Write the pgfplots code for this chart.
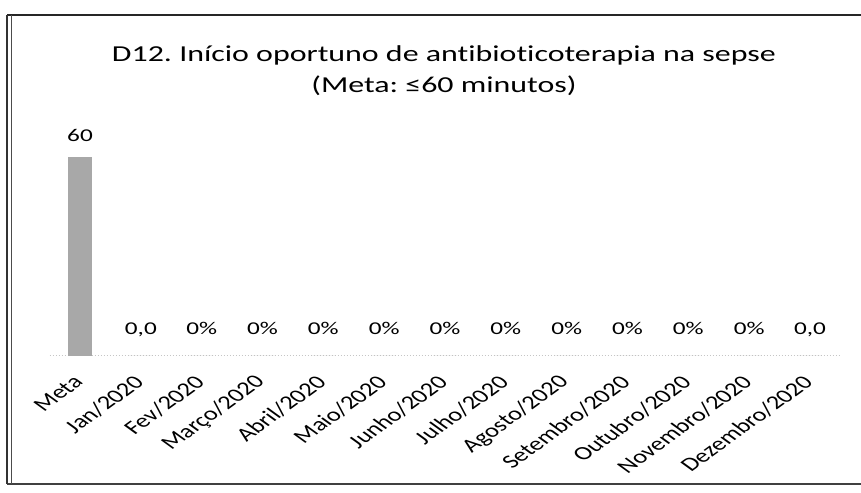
\documentclass[border=0pt]{standalone}
\usepackage{pgfplots}
\pgfplotsset{compat=1.18}
\usepackage{fontspec}
\setmainfont{Carlito}[Ligatures=NoCommon]
\newfontfamily\wide{Carlito}[FakeStretch=1.4, Ligatures=NoCommon]
\frenchspacing
\begin{document}
\begin{tikzpicture}
\path[use as bounding box] (0,0) rectangle (430.5pt,246pt);
\draw[black!85, line width=1pt] (3.5pt,238.5pt) -- (430.5pt,238.5pt);
\draw[black!75, line width=0.6pt] (3.5pt,4pt) -- (430.5pt,4pt);
\draw[black!80, line width=0.6pt] (3.5pt,4pt) -- (3.5pt,238.5pt);
\draw[black!70, line width=0.5pt] (5.6pt,4pt) -- (5.6pt,238.5pt);
\begin{axis}[
  at={(24.8pt,68pt)}, anchor=south west, scale only axis,
  width=395.4pt, height=107.8pt,
  xmin=-0.5, xmax=12.5, ymin=0, ymax=65,
  hide y axis,
  axis x line*=bottom,
  x axis line style={gray!45, -, line width=0.5pt, densely dotted},
  xtick={0,...,12},
  xticklabels={Meta,Jan/2020,Fev/2020,Março/2020,Abril/2020,Maio/2020,Junho/2020,Julho/2020,Agosto/2020,Setembro/2020,Outubro/2020,Novembro/2020,Dezembro/2020},
  major tick length=0pt,
  xticklabel style={font=\fontsize{9.6}{10}\selectfont, xshift=2.5pt, yshift=-9pt, xscale=1.38, rotate=45, anchor=east},
  ytick=\empty,
  ybar, bar width=12pt, bar shift=0pt,
  nodes near coords, point meta=explicit symbolic,
  clip=false,
]
\addplot[fill=black!34, draw=none,
  nodes near coords style={font=\wide\fontsize{9}{10}\selectfont, black, anchor=base, yshift=7.5pt}]
  table[x=x, y=y, meta=lab] {
x y lab
0 60 60
};
\addplot[fill=black!34, draw=none,
  nodes near coords style={font=\wide\fontsize{9}{10}\selectfont, black, anchor=base, yshift=10.5pt}]
  table[x=x, y=y, meta=lab] {
x y lab
1 0 0,0
2 0 0\%
3 0 0\%
4 0 0\%
5 0 0\%
6 0 0\%
7 0 0\%
8 0 0\%
9 0 0\%
10 0 0\%
11 0 0\%
12 0 0,0
};
\end{axis}
\node[font=\wide\fontsize{11.4}{13}\selectfont, anchor=base] at (222pt,215pt) {D12. Início oportuno de antibioticoterapia na sepse};
\node[font=\wide\fontsize{11.4}{13}\selectfont, anchor=base] at (222pt,199.5pt) {(Meta: ≤60 minutos)};
\end{tikzpicture}
\end{document}
